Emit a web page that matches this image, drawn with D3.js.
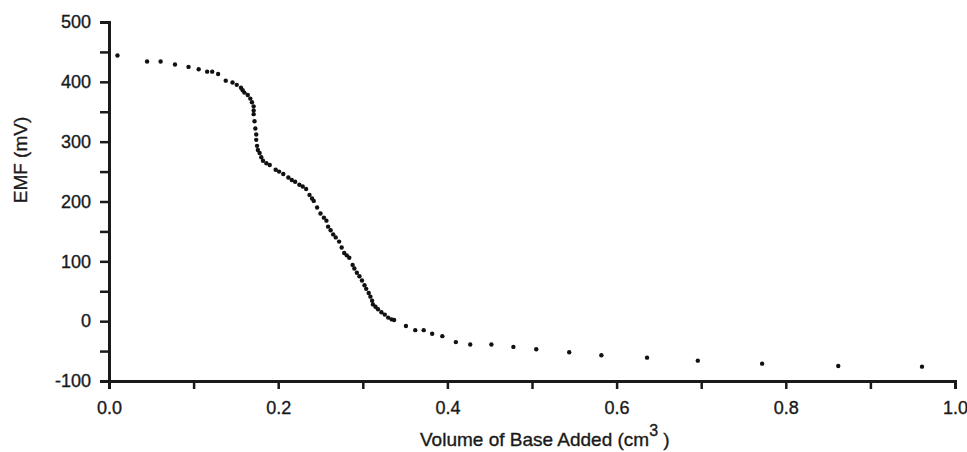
<!DOCTYPE html>
<html>
<head>
<meta charset="utf-8">
<script src="https://cdn.jsdelivr.net/npm/d3@7"></script>
<style>
  body { margin: 0; background: #fff; }
  text { font-family: "Liberation Sans", Arial, sans-serif; fill: #1a1a1a; stroke: #1a1a1a; stroke-width: 0.35px; }
</style>
</head>
<body>
<div id="chart"></div>
<script>
// volume of base added (cm3)
const volume = [
  0.010, 0.045, 0.061, 0.078, 0.094, 0.106, 0.116, 0.122, 0.129, 0.138,
  0.146, 0.151, 0.156, 0.158, 0.160, 0.164, 0.167, 0.169, 0.171, 0.171,
  0.171, 0.172, 0.173, 0.174, 0.174, 0.175, 0.176, 0.178, 0.180, 0.182,
  0.186, 0.190, 0.197, 0.201, 0.206, 0.212, 0.216, 0.220, 0.225, 0.229,
  0.233, 0.237, 0.240, 0.242, 0.246, 0.250, 0.254, 0.257, 0.259, 0.262,
  0.265, 0.268, 0.272, 0.275, 0.278, 0.281, 0.284, 0.288, 0.290, 0.293,
  0.296, 0.299, 0.302, 0.304, 0.307, 0.309, 0.311, 0.312, 0.315, 0.318,
  0.322, 0.326, 0.330, 0.334, 0.337, 0.351, 0.362, 0.372, 0.382, 0.394,
  0.410, 0.427, 0.452, 0.478, 0.505, 0.544, 0.582, 0.636, 0.696, 0.772,
  0.862, 0.961
]
// EMF (mV)
const emf = [
  444, 434, 434, 429, 425, 421, 417, 417, 413, 402,
  399, 395, 390, 386, 382, 378, 372, 366, 359, 352,
  346, 334, 322, 312, 303, 293, 286, 281, 274, 268,
  264, 261, 253, 250, 246, 240, 236, 233, 228, 225,
  221, 211, 205, 201, 190, 180, 173, 168, 158, 152,
  145, 140, 133, 123, 114, 110, 106, 94, 88, 81,
  75, 68, 60, 54, 47, 41, 34, 28, 24, 20,
  15, 11, 6, 3, 2, -8, -15, -15, -21, -25,
  -35, -39, -39, -43, -47, -52, -57, -61, -66, -71,
  -75, -76
]
const xTicks = [0, 0.1, 0.2, 0.3, 0.4, 0.5, 0.6, 0.7, 0.8, 0.9, 1.0]
const yTicks = [-100, -50, 0, 50, 100, 150, 200, 250, 300, 350, 400, 450, 500]

const width = 967, height = 452
const margin = { top: 22, right: 12, bottom: 71, left: 109 }

const svg = d3.select('#chart').append('svg')
  .attr('width', width)
  .attr('height', height)

const x = d3.scaleLinear().domain([0, 1]).range([margin.left, width - margin.right])
const y = d3.scaleLinear().domain([-100, 500]).range([height - margin.bottom, margin.top])

// x axis
const xAxis = svg.append('g')
  .attr('transform', `translate(0,${y(-100)})`)
  .call(d3.axisBottom(x)
    .tickValues(xTicks)
    .tickSize(8)
    .tickPadding(12)
    .tickFormat(d => Math.round(d * 10) % 2 === 0 ? d3.format('.1f')(d) : ''))
xAxis.select('.domain').attr('stroke', '#1a1a1a').attr('stroke-width', 3)
xAxis.selectAll('.tick line').attr('stroke', '#1a1a1a').attr('stroke-width', 2.5)
xAxis.selectAll('.tick text').style('font-size', '18px')

// y axis
const yAxis = svg.append('g')
  .attr('transform', `translate(${x(0)},0)`)
  .call(d3.axisLeft(y)
    .tickValues(yTicks)
    .tickSize(9)
    .tickPadding(9)
    .tickFormat(d => d % 100 === 0 ? d : ''))
yAxis.select('.domain').attr('stroke', '#1a1a1a').attr('stroke-width', 3)
yAxis.selectAll('.tick line').attr('stroke', '#1a1a1a').attr('stroke-width', 2.5)
yAxis.selectAll('.tick text').style('font-size', '18px')

// points
svg.append('g')
  .selectAll('circle')
  .data(volume.map((v, i) => ({ v, e: emf[i] })))
  .join('circle')
  .attr('cx', d => x(d.v))
  .attr('cy', d => y(d.e))
  .attr('r', 2.2)
  .attr('fill', '#111')

// axis titles
svg.append('text')
  .attr('transform', 'translate(27,160) rotate(-90)')
  .attr('text-anchor', 'middle')
  .style('font-size', '19px')
  .text('EMF (mV)')

const xTitle = svg.append('text')
  .attr('x', 420)
  .attr('y', 446)
  .style('font-size', '19px')
xTitle.append('tspan').text('Volume of Base Added (cm')
xTitle.append('tspan').attr('dy', -10).style('font-size', '16px').text('3')
xTitle.append('tspan').attr('dy', 10).text('  )')
</script>
</body>
</html>
